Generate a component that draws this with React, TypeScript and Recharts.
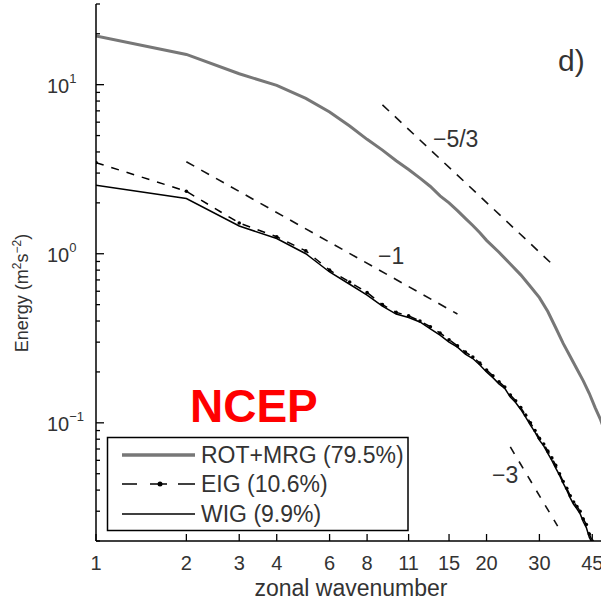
import { LineChart, Line, XAxis, YAxis } from 'recharts';

const FONT = '"Liberation Sans", Arial, sans-serif';
const TXT = '#333';

// axis layout
const PLOT_LEFT = 96;
const PLOT_TOP = 4;
const PLOT_BOTTOM = 541;
const PLOT_RIGHT = 606;

const xTicks = [1, 2, 3, 4, 6, 8, 11, 15, 20, 30, 45];
const yTicks = [
  0.02, 0.03, 0.04, 0.05, 0.06, 0.07, 0.08, 0.09,
  0.1, 0.2, 0.3, 0.4, 0.5, 0.6, 0.7, 0.8, 0.9,
  1, 2, 3, 4, 5, 6, 7, 8, 9,
  10, 20, 30,
];
const yExponent: Record<string, string> = { '0.1': '\u22121', '1': '0', '10': '1' };

// ROT+MRG spectrum (grey)
const rotK = [1, 2, 3, 4, 5, 6, 7, 8, 9, 10, 11, 12, 13, 14, 15, 16, 17, 18, 19, 20, 22, 24, 26, 28, 30, 32, 34, 36, 38, 40, 42, 44, 46, 48, 50];
const rotE = [19.4, 15.1, 11.6, 9.9, 8.3, 6.9, 5.7, 4.75, 4.1, 3.55, 3.15, 2.8, 2.5, 2.2, 2.0, 1.8, 1.62, 1.47, 1.33, 1.2, 1.02, 0.87, 0.75, 0.64, 0.55, 0.455, 0.365, 0.295, 0.247, 0.208, 0.177, 0.149, 0.123, 0.104, 0.085];

// EIG spectrum (dashed with dots)
const eigK = [1, 2, 3, 4, 5, 6, 7, 8, 9, 10, 11, 12, 13, 14, 15, 16, 17, 18, 19, 20, 21, 22, 23, 24, 25, 26, 27, 28, 29, 30, 31, 32, 33, 34, 35, 36, 37, 38, 39, 40, 41, 42, 43, 44, 45];
const eigE = [3.46, 2.34, 1.52, 1.26, 1.04, 0.8, 0.68, 0.59, 0.5, 0.45, 0.43, 0.4, 0.37, 0.34, 0.31, 0.285, 0.262, 0.245, 0.226, 0.205, 0.19, 0.175, 0.163, 0.146, 0.135, 0.123, 0.111, 0.1, 0.09, 0.081, 0.075, 0.068, 0.062, 0.056, 0.05, 0.045, 0.041, 0.037, 0.034, 0.032, 0.03, 0.027, 0.025, 0.022, 0.02];

// WIG spectrum (thin solid)
const wigK = eigK;
const wigE = [2.54, 2.12, 1.46, 1.23, 1.0, 0.78, 0.66, 0.57, 0.49, 0.44, 0.42, 0.395, 0.36, 0.33, 0.3, 0.28, 0.255, 0.24, 0.22, 0.2, 0.185, 0.17, 0.16, 0.142, 0.132, 0.12, 0.108, 0.097, 0.088, 0.079, 0.073, 0.066, 0.06, 0.054, 0.049, 0.044, 0.04, 0.036, 0.033, 0.031, 0.029, 0.026, 0.024, 0.021, 0.0195];

// reference slopes
const slope53K = [9, 34];
const slope53E = [7.6, 0.83];
const slope1K = [2, 16];
const slope1E = [3.5, 0.44];
const slope3K = [24, 34.5];
const slope3E = [0.072, 0.0245];

const zip = (ks: number[], es: number[]) => ks.map((k, i) => ({ k, E: es[i] }));

const rotData = zip(rotK, rotE);
const eigData = zip(eigK, eigE);
const wigData = zip(wigK, wigE);
const s53Data = zip(slope53K, slope53E);
const s1Data = zip(slope1K, slope1E);
const s3Data = zip(slope3K, slope3E);

const BottomTick = (p: any) => (
  <g>
    <line x1={p.x} x2={p.x} y1={PLOT_BOTTOM} y2={PLOT_BOTTOM - 7} stroke="#000" strokeWidth={1.3} />
    <text x={p.x} y={PLOT_BOTTOM + 29} textAnchor="middle" fontSize={20} fill={TXT} fontFamily={FONT}>
      {p.payload.value}
    </text>
  </g>
);

const TopTick = (p: any) => (
  <line x1={p.x} x2={p.x} y1={PLOT_TOP} y2={PLOT_TOP + 7} stroke="#000" strokeWidth={1.3} />
);

const LeftTick = (p: any) => {
  const exp = yExponent[String(p.payload.value)];
  const len = exp !== undefined ? 8 : 4;
  return (
    <g>
      <line x1={PLOT_LEFT} x2={PLOT_LEFT + len} y1={p.y} y2={p.y} stroke="#000" strokeWidth={1.3} />
      {exp !== undefined && (
        <text x={47} y={p.y + 8} fontSize={20} fill={TXT} fontFamily={FONT}>
          10<tspan dy={-10} fontSize={13}>{exp}</tspan>
        </text>
      )}
    </g>
  );
};

const RightTick = (p: any) => {
  const major = yExponent[String(p.payload.value)] !== undefined;
  return <line x1={PLOT_RIGHT} x2={PLOT_RIGHT - (major ? 8 : 4)} y1={p.y} y2={p.y} stroke="#000" strokeWidth={1.3} />;
};

export default function App() {
  return (
    <div style={{ position: 'absolute', left: 0, top: 0, width: 601, height: 601, overflow: 'hidden', background: '#fff', fontFamily: FONT }}>
      <div style={{ position: 'absolute', left: 0, top: 0 }}>
        <LineChart width={620} height={601} margin={{ top: PLOT_TOP, right: 620 - PLOT_RIGHT, bottom: 0, left: 0 }}>
          <XAxis
            dataKey='k'
            type='number'
            scale='log'
            domain={[1, 50]}
            allowDataOverflow
            ticks={xTicks}
            interval={0}
            height={601 - PLOT_BOTTOM}
            tickLine={false}
            tickSize={0}
            axisLine={{ stroke: '#000', strokeWidth: 1.5 }}
            tick={BottomTick}
          />
          <XAxis
            xAxisId='top'
            orientation='top'
            dataKey='k'
            type='number'
            scale='log'
            domain={[1, 50]}
            allowDataOverflow
            ticks={xTicks}
            interval={0}
            height={0}
            tickLine={false}
            tickSize={0}
            axisLine={{ stroke: '#000', strokeWidth: 1.5 }}
            tick={TopTick}
          />
          <YAxis
            type='number'
            scale='log'
            domain={[0.02, 30]}
            allowDataOverflow
            ticks={yTicks}
            interval={0}
            width={PLOT_LEFT}
            tickLine={false}
            tickSize={0}
            axisLine={{ stroke: '#000', strokeWidth: 1.5 }}
            tick={LeftTick}
          />
          <YAxis
            yAxisId='right'
            orientation='right'
            type='number'
            scale='log'
            domain={[0.02, 30]}
            allowDataOverflow
            ticks={yTicks}
            interval={0}
            width={0}
            tickLine={false}
            tickSize={0}
            axisLine={{ stroke: '#000', strokeWidth: 1.5 }}
            tick={RightTick}
          />
          <Line data={s53Data} dataKey='E' stroke='#111' strokeWidth={1.6} strokeDasharray='9 8' dot={false} isAnimationActive={false} />
          <Line data={s1Data} dataKey='E' stroke='#111' strokeWidth={1.6} strokeDasharray='9 8' dot={false} isAnimationActive={false} />
          <Line data={s3Data} dataKey='E' stroke='#111' strokeWidth={1.6} strokeDasharray='8 9' dot={false} isAnimationActive={false} />
          <Line data={rotData} dataKey='E' stroke='#777' strokeWidth={3} dot={false} isAnimationActive={false} />
          <Line data={wigData} dataKey='E' stroke='#000' strokeWidth={1.5} dot={false} isAnimationActive={false} />
          <Line
            data={eigData}
            dataKey='E'
            stroke='#000'
            strokeWidth={1.5}
            strokeDasharray='8 8'
            dot={{ r: 1.8, fill: '#000', stroke: 'none' }}
            isAnimationActive={false}
          />
        </LineChart>
      </div>
      <svg width={601} height={601} style={{ position: 'absolute', left: 0, top: 0, pointerEvents: 'none' }} fontFamily={FONT}>
        {/* axis titles */}
        <text x={351} y={596} textAnchor='middle' fontSize={23} fill={TXT}>zonal wavenumber</text>
        <text transform='translate(28,293) rotate(-90)' textAnchor='middle' fontSize={18} fill={TXT}>
          Energy (m<tspan dy={-7} fontSize={12}>2</tspan><tspan dy={7}>s</tspan><tspan dy={-7} fontSize={12}>{'\u22122'}</tspan><tspan dy={7}>)</tspan>
        </text>
        {/* slope labels */}
        <text x={433} y={147} fontSize={23} fill={TXT}>{'\u22125/3'}</text>
        <text x={378} y={264} fontSize={23} fill={TXT}>{'\u22121'}</text>
        <text x={492} y={483} fontSize={23} fill={TXT}>{'\u22123'}</text>
        <text x={558} y={71} fontSize={30} fill={TXT}>d)</text>
        <text x={190} y={422} fontSize={46} fontWeight='bold' fill='#ff0000'>NCEP</text>
        {/* legend */}
        <rect x={107.5} y={437.5} width={300.5} height={93} fill='#fff' stroke='#000' strokeWidth={1.5} />
        <line x1={122} x2={195} y1={455} y2={455} stroke='#777' strokeWidth={3.5} />
        <line x1={122} x2={137} y1={484} y2={484} stroke='#000' strokeWidth={1.5} />
        <line x1={150} x2={167} y1={484} y2={484} stroke='#000' strokeWidth={1.5} />
        <circle cx={160} cy={484} r={2.5} fill='#000' />
        <line x1={178} x2={195} y1={484} y2={484} stroke='#000' strokeWidth={1.5} />
        <line x1={122} x2={195} y1={514} y2={514} stroke='#000' strokeWidth={1.5} />
        <text x={201} y={463} fontSize={23} fill={TXT}>ROT+MRG (79.5%)</text>
        <text x={201} y={492} fontSize={23} fill={TXT}>EIG (10.6%)</text>
        <text x={201} y={522} fontSize={23} fill={TXT}>WIG (9.9%)</text>
      </svg>
    </div>
  );
}
